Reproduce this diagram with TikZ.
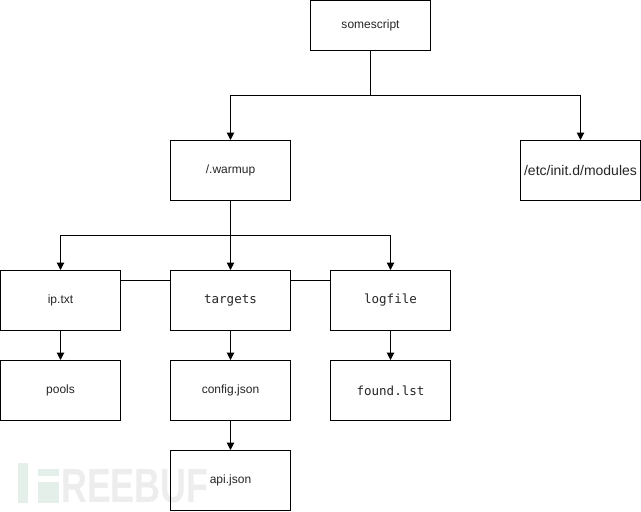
\documentclass[tikz,border=0pt]{standalone}
\usepackage{fontspec}
\setmainfont{Liberation Sans}
\newfontfamily\monof{DejaVu Sans Mono}
\newfontfamily\wmfont{Liberation Sans}
\usetikzlibrary{arrows.meta}
\definecolor{wmgreen}{HTML}{E3EFE8}
\definecolor{wmgrey}{HTML}{EDEDED}
\tikzset{
  x=0.75pt,y=-0.75pt,
  box/.style={draw=black,line width=0.75pt,fill=white,minimum width=90pt,minimum height=45pt,inner sep=0pt,anchor=center,font=\fontsize{9}{11}\selectfont,text=black!85},
  tall/.style={box,minimum height=37.5pt},
  mono/.style={font=\monof\fontsize{9.4}{11}\selectfont},
  conn/.style={draw=black,line width=0.75pt,-{Triangle[length=5.5pt,width=5.5pt]}},
  plain/.style={draw=black,line width=0.75pt},
}
\begin{document}
\begin{tikzpicture}
\useasboundingbox (0,0) rectangle (641,511);
\fill[white] (0,0) rectangle (641,511);
% watermark
\fill[wmgreen] (18,463) rectangle (28,503);
\fill[wmgreen] (38,469) rectangle (59,476);
\fill[wmgreen] (38,482) rectangle (59,503);
\node[anchor=west,inner sep=0pt,xscale=0.745,text=wmgrey,font=\wmfont\bfseries\fontsize{36}{36}\selectfont] (wm) at (61,486.5) {REEBUF};
% nodes
\node[tall] (s) at (370.5,25.5) {somescript};
\node[box] (w) at (230.5,170.5) {/.warmup};
\node[box,font=\fontsize{10.5}{12}\selectfont] (m) at (580.5,170.5) {/etc/init.d/modules};
\node[box] (i) at (60.5,300.5) {ip.txt};
\node[box,mono] (t) at (230.5,300.5) {targets};
\node[box,mono] (l) at (390.5,300.5) {logfile};
\node[box] (p) at (60.5,390.5) {pools};
\node[box] (c) at (230.5,390.5) {config.json};
\node[box,mono] (f) at (390.5,390.5) {found.lst};
\node[box,fill=none] (a) at (230.5,480.5) {api.json};
% connectors
\coordinate (j1) at (s.south |- 0,95.5);
\coordinate (j2) at (w.south |- 0,235.5);
\draw[conn] (s.south) -- (j1) -| (w.north);
\draw[conn] (j1) -| (m.north);
\draw[conn] (w.south) -- (t.north);
\draw[conn] (j2) -| (i.north);
\draw[conn] (j2) -| (l.north);
\draw[conn] (i.south) -- (p.north);
\draw[conn] (t.south) -- (c.north);
\draw[conn] (c.south) -- (a.north);
\draw[conn] (l.south) -- (f.north);
\coordinate (ie) at (i.east |- 0,280.5);
\coordinate (te) at (t.west |- 0,280.5);
\coordinate (tr) at (t.east |- 0,280.5);
\coordinate (le) at (l.west |- 0,280.5);
\draw[plain] (ie) -- (te);
\draw[plain] (tr) -- (le);
\end{tikzpicture}
\end{document}
